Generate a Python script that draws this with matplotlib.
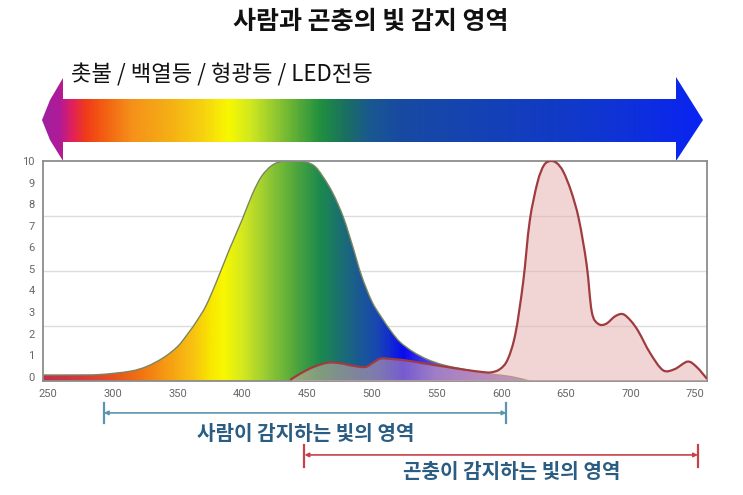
import numpy as np
import matplotlib
matplotlib.use("Agg")
import matplotlib.pyplot as plt
from matplotlib.path import Path
from matplotlib.patches import PathPatch, Polygon
from matplotlib.colors import LinearSegmentedColormap
import matplotlib.transforms as mtrans

plt.rcParams['font.family'] = ['Noto Sans CJK KR', 'DejaVu Sans']

# ---------------- data ----------------
title = "사람과 곤충의 빛 감지 영역"
light_label = "촛불 / 백열등 / 형광등 / LED전등"
human_label = "사람이 감지하는 빛의 영역"
insect_label = "곤충이 감지하는 빛의 영역"

x_ticks = [250, 300, 350, 400, 450, 500, 550, 600, 650, 700, 750]
y_ticks = [0, 1, 2, 3, 4, 5, 6, 7, 8, 9, 10]

human_wl = [246, 270, 290, 313, 326, 339, 350, 358, 365, 372, 380, 390, 400, 408,
            415, 423, 432, 445, 455, 462, 470, 478, 485, 492, 500, 507, 515, 522,
            532, 543, 555, 568, 582, 595, 608, 622]
human_val = [0.08, 0.08, 0.1, 0.25, 0.47, 0.88, 1.4, 2.0, 2.6, 3.3, 4.4, 5.9, 7.3, 8.5,
             9.3, 9.8, 10.0, 10.0, 9.8, 9.3, 8.5, 7.4, 6.1, 4.7, 3.5, 2.8, 2.1, 1.6,
             1.15, 0.8, 0.55, 0.38, 0.22, 0.1, 0.0, -0.2]

insect_wl = [437, 445, 455, 466, 476, 486, 495, 501, 507, 515, 527, 540, 555, 571,
             585, 592, 599, 605, 611, 617, 622, 628, 633, 638, 643, 648, 654, 660,
             666, 670, 675, 681, 688, 694, 700, 706, 715, 725, 734, 744, 751, 759]
insect_val = [-0.15, 0.15, 0.45, 0.65, 0.62, 0.5, 0.45, 0.65, 0.84, 0.82, 0.75, 0.62, 0.48, 0.33,
              0.22, 0.2, 0.35, 0.8, 2.0, 4.4, 7.2, 9.0, 9.8, 10.0, 9.9, 9.5, 8.6, 7.3,
              5.2, 3.0, 2.45, 2.45, 2.8, 2.9, 2.6, 2.1, 1.1, 0.3, 0.35, 0.7, 0.45, -0.1]

human_range = [293, 604]
insect_range = [448, 752]

# spectrum colors of the filled human curve (wavelength -> color)
spec_wl = [246, 275, 300, 320, 340, 360, 375, 385, 400, 415, 430, 445, 460, 475,
           490, 505, 525, 550, 575, 600, 625, 759]
spec_col = ['#c4304c', '#d43c3c', '#e85220', '#f07212', '#f59a12', '#f8c012', '#f8e600',
            '#f8f800', '#d4e820', '#a2d030', '#70b838', '#44a040', '#1c8a4e', '#1a7070',
            '#1a5a92', '#1846b4', '#0a0af2', '#5c50e2', '#8262d2', '#9a72c8', '#a482c0',
            '#a482c0']

XMIN, XMAX = 246, 759
YMIN, YMAX = -0.2, 10.0

# ---------------- helpers ----------------
def smooth(xs, ys):
    pts = np.column_stack([xs, ys]).astype(float)
    n = len(pts)
    verts, codes = [pts[0]], [Path.MOVETO]
    for i in range(n - 1):
        p0 = pts[i - 1] if i > 0 else pts[i]
        p1, p2 = pts[i], pts[i + 1]
        p3 = pts[i + 2] if i + 2 < n else pts[i + 1]
        verts += [p1 + (p2 - p0) / 6.0, p2 - (p3 - p1) / 6.0, p2]
        codes += [Path.CURVE4] * 3
    return verts, codes

def line_path(xs, ys):
    v, c = smooth(xs, ys)
    return Path(v, c)

def fill_path(xs, ys, base):
    v, c = smooth(xs, ys)
    verts = [(xs[0], base)] + v + [(xs[-1], base), (xs[0], base)]
    codes = [Path.MOVETO, Path.LINETO] + c[1:] + [Path.LINETO, Path.CLOSEPOLY]
    return Path(verts, codes)

# ---------------- figure ----------------
W, H = 743, 495
fig = plt.figure(figsize=(W / 100, H / 100), dpi=100)
fig.patch.set_facecolor('white')

# decorative overlay in pixel coordinates
ov = fig.add_axes([0, 0, 1, 1], zorder=0)
ov.set_xlim(0, W)
ov.set_ylim(H, 0)
ov.axis('off')

arrow_pts = [(42, 120), (50, 100), (63, 78), (63, 99), (676, 99), (676, 77), (703, 120),
             (676, 161), (676, 142), (63, 142), (63, 161), (50, 140)]
arrow_poly = Polygon(arrow_pts, closed=True, facecolor='none', edgecolor='none')
ov.add_patch(arrow_poly)
arr_stops_x = [42, 58, 70, 84, 100, 130, 170, 200, 228, 250, 275, 300, 320, 345,
               370, 400, 500, 600, 703]
arr_stops_c = ['#a0209e', '#b01a98', '#e0205e', '#f03a1a', '#f25a12', '#f5901a', '#f5b015',
               '#f6d010', '#f8f800', '#d0e820', '#92c830', '#52a838', '#1f9040', '#1a7060',
               '#1a5890', '#184aa2', '#1440b8', '#1036d0', '#0a24f2']
arr_cmap = LinearSegmentedColormap.from_list(
    'arr', [((x - 42) / (703 - 42), c) for x, c in zip(arr_stops_x, arr_stops_c)])
im = ov.imshow(np.linspace(0, 1, 600)[None, :], cmap=arr_cmap, aspect='auto',
               extent=(42, 703, 161, 77), interpolation='bilinear')
im.set_clip_path(arrow_poly)

fig.text(371 / W, 1 - 22 / H, title, ha='center', va='center',
         fontsize=18, fontweight='bold', color='#111111')
fig.text(71 / W, 1 - 75 / H, light_label, ha='left', va='center',
         fontsize=16, color='#111111')

# main axes
ax = fig.add_axes([43 / W, 1 - 381 / H, (707 - 43) / W, 220 / H], zorder=1)
ax.set_xlim(XMIN, XMAX)
ax.set_ylim(YMIN, YMAX)

# grid lines at quarters
for f in (0.25, 0.5, 0.75):
    ax.axhline(YMIN + f * (YMAX - YMIN), color='#dddddd', lw=1.0, zorder=0.5)

# human curve with spectrum gradient
hpath = fill_path(human_wl, human_val, YMIN)
hpatch = PathPatch(hpath, facecolor='none', edgecolor='none')
ax.add_patch(hpatch)
spec_cmap = LinearSegmentedColormap.from_list(
    'spec', [((w - XMIN) / (XMAX - XMIN), c) for w, c in zip(spec_wl, spec_col)])
gim = ax.imshow(np.linspace(0, 1, 800)[None, :], cmap=spec_cmap, aspect='auto',
                extent=(XMIN, XMAX, YMIN, YMAX), interpolation='bilinear', zorder=1)
gim.set_clip_path(hpatch)
ax.add_patch(PathPatch(line_path(human_wl, human_val), facecolor='none',
                       edgecolor='#7b8660', lw=1.0, zorder=2))

# insect curve
ax.add_patch(PathPatch(fill_path(insect_wl, insect_val, YMIN), facecolor='#e4adad',
                       edgecolor='none', alpha=0.5, zorder=3))
ax.add_patch(PathPatch(line_path(insect_wl, insect_val), facecolor='none',
                       edgecolor='#a03c40', lw=1.6, zorder=4))

ax.set_xticks(x_ticks)
ax.set_yticks(y_ticks)
ax.set_xticklabels([str(v) for v in x_ticks])
ax.set_yticklabels([str(v) for v in y_ticks])
ax.tick_params(length=0, labelsize=8, labelcolor='#666666', pad=6)
for lab in ax.get_xticklabels() + ax.get_yticklabels():
    lab.set_family(['Roboto', 'DejaVu Sans'])
for s in ax.spines.values():
    s.set_color('#8c8c8c')
    s.set_linewidth(1.3)

# range annotations below the axis
trans = mtrans.blended_transform_factory(ax.transData, ax.transAxes)
def range_bar(rng, yline, ytop, ybot, color):
    ax.annotate('', xy=(rng[0], yline), xytext=(rng[1], yline),
                xycoords=trans, textcoords=trans,
                arrowprops=dict(arrowstyle='<|-|>', color=color, lw=1.2,
                                mutation_scale=6, shrinkA=0, shrinkB=0),
                annotation_clip=False)
    for x in rng:
        ax.plot([x, x], [ytop, ybot], transform=trans, color=color, lw=1.6,
                clip_on=False)

range_bar(human_range, -0.145, -0.10, -0.19, '#5a94b0')
range_bar(insect_range, -0.336, -0.29, -0.39, '#c8404a')

fig.text(306 / W, 1 - 433 / H, human_label, ha='center', va='center',
         fontsize=14.5, fontweight='bold', color='#2b5d82')
fig.text(512 / W, 1 - 472 / H, insect_label, ha='center', va='center',
         fontsize=14.5, fontweight='bold', color='#2b5d82')

fig.savefig('out.png', dpi=100, facecolor='white')
